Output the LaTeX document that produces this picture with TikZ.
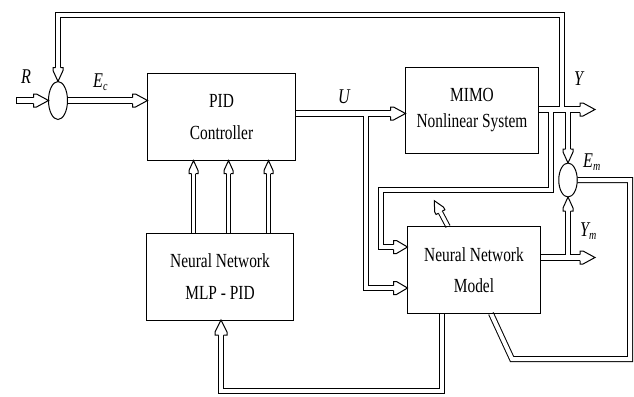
\documentclass[tikz,border=0pt]{standalone}
\usepackage{fontspec}
\setmainfont{Liberation Serif}[FakeStretch=0.77]
\usetikzlibrary{shapes.geometric,calc}
\pgfdeclarelayer{bg}
\pgfsetlayers{bg,main}
\newif\ifouter
\tikzset{
  pw/.code={\ifouter\pgfmathsetmacro\pwtmp{#1+2}\tikzset{line width=\pwtmp pt,draw=black}\else\tikzset{line width=#1pt,draw=white}\fi},
  cs/.code={\ifouter\else\tikzset{shorten <=1pt}\fi},
  pipe/.style={line join=miter,line cap=butt},
  hd/.style={line width=1pt,fill=white,draw=black,line join=miter},
  pics/head/.style n args={4}{code={\draw[hd] (-#1pt,#4pt) -- (-#1pt,#3pt) -- (-#2pt,#3pt) -- (0pt,0pt) -- (-#2pt,-#3pt) -- (-#1pt,-#3pt) -- (-#1pt,-#4pt);}},
  box/.style={draw,line width=1pt,align=center,inner sep=0pt,outer sep=0pt},
  junc/.style={ellipse,draw,line width=1pt,inner sep=0pt,outer sep=0pt},
  lbl/.style={font=\fontsize{21}{21}\selectfont\itshape,inner sep=0pt,anchor=base west},
}
\newcommand\sbs[1]{\raisebox{-3.5pt}{\fontsize{13}{13}\selectfont #1}}
\newcommand\pipenet{%
  \draw[pipe,pw=5,cs,shorten >=15pt] (rin) -- (sum1.west);
  \draw[pipe,pw=5,shorten >=15pt] (sum1.east) -- (pid.west |- sum1.east);
  \draw[pipe,pw=5,shorten >=15pt] (pid.east |- uy) -- (mimo.west |- uy);
  \draw[pipe,pw=5,shorten >=15pt] (mimo.east |- yy) -- (yout);
  \draw[pipe,pw=4,shorten >=14pt] (fbx |- yy) -- (fbx |- topy) -- (sum1.north |- topy) -- (sum1.north);
  \draw[pipe,pw=4,shorten >=14pt] (sum2.north |- yy) -- (sum2.north);
  \draw[pipe,pw=4,shorten >=14pt] (brx |- yy) -- (brx |- b1y) -- (b2x |- b1y) -- (b2x |- nnup) -- (nnm.west |- nnup);
  \draw[pipe,pw=4,shorten >=14pt] (ux |- uy) -- (ux |- nnlo) -- (nnm.west |- nnlo);
  \draw[pipe,pw=5,shorten >=15pt] (nnm.east |- ymy) -- (ymout);
  \draw[pipe,pw=4,shorten >=14pt] (sum2.south |- ymy) -- (sum2.south);
  \draw[pipe,pw=4] (sum2.east) -- (rx |- sum2.east) -- (rx |- loopy) -- (dgx |- loopy) -- (nnm.south -| dgex);
  \draw[pipe,pw=3.4,shorten >=13pt] (nnm.north -| tax) -- (tnB);
  \draw[pipe,pw=4,shorten >=15pt] (nnm.south -| bx) -- (bx |- boty) -- (mlpin |- boty) -- (mlp.south -| mlpin);
  \draw[pipe,pw=3,shorten >=13pt] (mlp.north -| pxa) -- (pid.south -| pxa);
  \draw[pipe,pw=3,shorten >=13pt] (mlp.north -| pxb) -- (pid.south -| pxb);
  \draw[pipe,pw=3,shorten >=13pt] (mlp.north -| pxc) -- (pid.south -| pxc);
}
\begin{document}
\begin{tikzpicture}[x=1pt,y=-1pt]
\useasboundingbox (0,0) rectangle (634,396);
% blocks
\node[box,minimum width=148pt,minimum height=87pt,font=\fontsize{20}{32}\selectfont] (pid) at (221.5,117) {PID\\Controller};
\node[box,minimum width=133pt,minimum height=86pt,font=\fontsize{20}{26}\selectfont] (mimo) at (472,110.5) {MIMO\\Nonlinear System};
\node[box,minimum width=133pt,minimum height=87pt,font=\fontsize{20}{31}\selectfont] (nnm) at (474,270) {Neural Network\\Model};
\node[box,minimum width=147pt,minimum height=87pt,font=\fontsize{20}{32}\selectfont] (mlp) at (220,276.5) {Neural Network\\MLP - PID};
\node[junc,minimum width=19pt,minimum height=38pt] (sum1) at (58,100.5) {};
\node[junc,minimum width=18.5pt,minimum height=34pt] (sum2) at (568,180) {};
% helper coordinates
\coordinate (rin) at (16,100.5);
\coordinate (uy) at (0,113.5);
\coordinate (yy) at (0,109.5);
\coordinate (yout) at (595,109.5);
\coordinate (fbx) at (562,0);
\coordinate (topy) at (0,15);
\coordinate (brx) at (551,0);
\coordinate (b1y) at (0,190);
\coordinate (b2x) at (381,0);
\coordinate (nnup) at (0,247);
\coordinate (ux) at (366,0);
\coordinate (nnlo) at (0,288);
\coordinate (ymy) at (0,257.5);
\coordinate (ymout) at (595,257.5);
\coordinate (rx) at (630,0);
\coordinate (loopy) at (0,359);
\coordinate (dgx) at (512,0);
\coordinate (dgex) at (491,0);
\coordinate (tax) at (448,0);
\coordinate (tnB) at (434.3,200.7);
\coordinate (bx) at (442,0);
\coordinate (boty) at (0,391);
\coordinate (mlpin) at (221,0);
\coordinate (pxa) at (193.5,0);
\coordinate (pxb) at (228.5,0);
\coordinate (pxc) at (268.5,0);
% connectors (double pipes: all outer strokes, then all inner strokes)
\begin{pgfonlayer}{bg}
\outertrue\pipenet
\outerfalse\pipenet
\end{pgfonlayer}
% arrow heads
\pic at (sum1.west) {head={15}{12}{6.5}{3}};
\pic at (pid.west |- sum1.east) {head={15}{12}{6.5}{3}};
\pic at (mimo.west |- uy) {head={15}{12}{6.5}{3}};
\pic at (yout) {head={15}{12}{6.5}{3}};
\pic at (ymout) {head={15}{12}{6.5}{3}};
\pic at (nnm.west |- nnup) {head={14}{11}{6.5}{2.5}};
\pic at (nnm.west |- nnlo) {head={14}{11}{6.5}{2.5}};
\pic[rotate=-90] at (sum1.north) {head={14}{11}{5}{2.5}};
\pic[rotate=-90] at (sum2.north) {head={14}{11}{5}{2.5}};
\pic[rotate=90] at (sum2.south) {head={14}{11}{5}{2.5}};
\pic[rotate=118.4] at (tnB) {head={13}{10}{5}{2.2}};
\pic[rotate=90] at (mlp.south -| mlpin) {head={15}{12}{6}{2.5}};
\pic[rotate=90] at (pid.south -| pxa) {head={13}{10}{4.5}{2}};
\pic[rotate=90] at (pid.south -| pxb) {head={13}{10}{4.5}{2}};
\pic[rotate=90] at (pid.south -| pxc) {head={13}{10}{4.5}{2}};
% labels
\node[lbl] (lR) at (21,83) {R};
\node[lbl] (lEc) at (93,87) {E\sbs{c}};
\node[lbl] (lU) at (338,103) {U};
\node[lbl] (lY) at (574,85) {Y};
\node[lbl] (lEm) at (583,167) {E\sbs{m}};
\node[lbl] (lYm) at (580,236) {Y\sbs{m}};
\end{tikzpicture}
\end{document}
